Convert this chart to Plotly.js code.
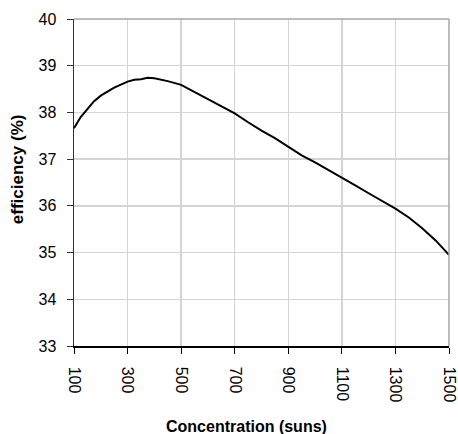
<!DOCTYPE html>
<html>
<head>
<meta charset="utf-8">
<script src="https://cdn.plot.ly/plotly-3.0.1.min.js"></script>
<style>html,body{margin:0;padding:0;background:#fff;}#chart{width:458px;height:434px;}</style>
</head>
<body>
<div id="chart"></div>
<script>
const concentration = [100,125,150,175,200,250,300,325,350,375,400,450,500,550,600,650,700,750,800,850,900,950,1000,1050,1100,1150,1200,1250,1300,1350,1400,1450,1500];
const efficiency = [37.66,37.90,38.07,38.24,38.36,38.53,38.66,38.70,38.71,38.74,38.73,38.67,38.59,38.44,38.29,38.14,37.98,37.79,37.61,37.45,37.26,37.08,36.93,36.77,36.60,36.44,36.27,36.11,35.94,35.75,35.52,35.26,34.95];
const xTicks = [100,300,500,700,900,1100,1300,1500];
const yTicks = [33,34,35,36,37,38,39,40];
const xTitle = "Concentration (suns)";
const yTitle = "efficiency (%)";

const F = "Arial, 'Liberation Sans', sans-serif";
const trace = {x: concentration, y: efficiency, type: 'scatter', mode: 'lines',
  line: {color: '#000', width: 2}, hoverinfo: 'skip'};

const layout = {
  width: 458, height: 434,
  margin: {l: 74, r: 9, t: 19, b: 88},
  paper_bgcolor: '#fff', plot_bgcolor: '#fff',
  showlegend: false,
  font: {family: F, color: '#000'},
  xaxis: {range: [100,1500], tickvals: xTicks, ticktext: xTicks.map(String), tickangle: 90,
    ticks: 'outside', ticklen: 6, tickcolor: '#000', tickwidth: 1,
    showline: true, linecolor: '#000', linewidth: 1.5,
    showgrid: true, gridcolor: '#d4d4d4', gridwidth: 1.5, zeroline: false,
    tickfont: {family: F, size: 16, color: '#000'}, ticklabelstandoff: 10, fixedrange: true},
  yaxis: {range: [33,40], tickvals: yTicks, ticktext: yTicks.map(String),
    ticks: 'outside', ticklen: 6, tickcolor: '#333', tickwidth: 1,
    showline: true, linecolor: '#333', linewidth: 1.5,
    showgrid: true, gridcolor: '#d4d4d4', gridwidth: 1.5, zeroline: false,
    tickfont: {family: F, size: 16, color: '#000'}, ticklabelstandoff: 7, fixedrange: true},
  shapes: [
    {type: 'line', xref: 'paper', yref: 'paper', x0: 0, x1: 1, y0: 1, y1: 1, line: {color: '#a6a6a6', width: 1.5}},
    {type: 'line', xref: 'paper', yref: 'paper', x0: 1, x1: 1, y0: 0, y1: 1, line: {color: '#a6a6a6', width: 1.5}}
  ],
  annotations: [
    {text: '<b>' + xTitle + '</b>', xref: 'paper', yref: 'paper', x: 0.459, y: -0.2477,
      xanchor: 'center', yanchor: 'middle', showarrow: false, font: {family: F, size: 16, color: '#000'}},
    {text: '<b>' + yTitle + '</b>', xref: 'paper', yref: 'paper', x: -0.15, y: 0.54, textangle: -90,
      xanchor: 'center', yanchor: 'middle', showarrow: false, font: {family: F, size: 17, color: '#000'}}
  ]
};
Plotly.newPlot('chart', [trace], layout, {staticPlot: true, displayModeBar: false});
</script>
</body>
</html>
